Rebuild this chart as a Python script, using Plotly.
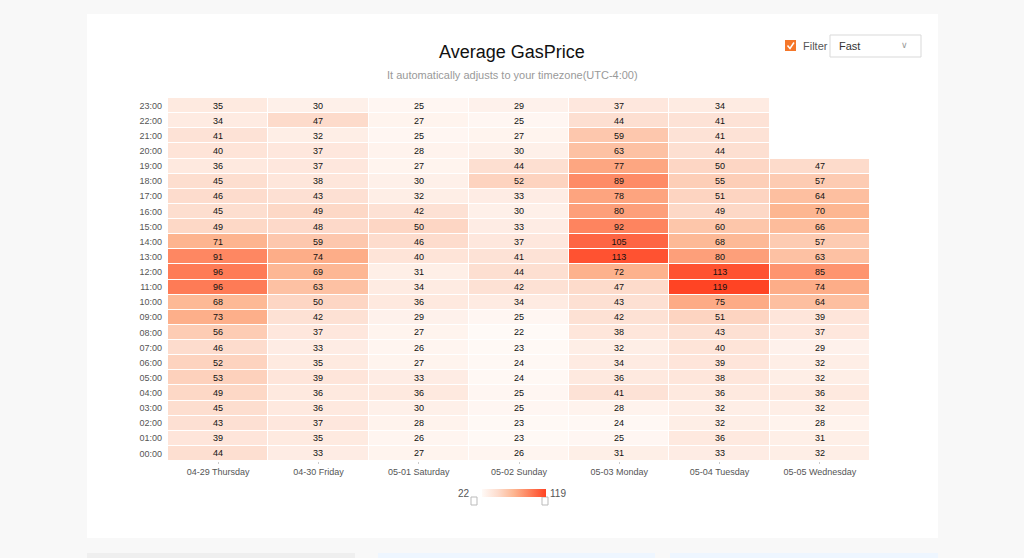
import plotly.graph_objects as go

# Hours (rows, bottom to top) and days (columns)
hours = ["%02d:00" % h for h in range(24)]
days = ["04-29 Thursday", "04-30 Friday", "05-01 Saturday", "05-02 Sunday",
        "05-03 Monday", "05-04 Tuesday", "05-05 Wednesday"]

# Average gas price per hour, one list per day (00:00 -> 23:00)
thu = [44, 39, 43, 45, 49, 53, 52, 46, 56, 73, 68, 96, 96, 91, 71, 49, 45, 46, 45, 36, 40, 41, 34, 35]
fri = [33, 35, 37, 36, 36, 39, 35, 33, 37, 42, 50, 63, 69, 74, 59, 48, 49, 43, 38, 37, 37, 32, 47, 30]
sat = [27, 26, 28, 30, 36, 33, 27, 26, 27, 29, 36, 34, 31, 40, 46, 50, 42, 32, 30, 27, 28, 25, 27, 25]
sun = [26, 23, 23, 25, 25, 24, 24, 23, 22, 25, 34, 42, 44, 41, 37, 33, 30, 33, 52, 44, 30, 27, 25, 29]
mon = [31, 25, 24, 28, 41, 36, 34, 32, 38, 42, 43, 47, 72, 113, 105, 92, 80, 78, 89, 77, 63, 59, 44, 37]
tue = [33, 36, 32, 32, 36, 38, 39, 40, 43, 51, 75, 119, 113, 80, 68, 60, 49, 51, 55, 50, 44, 41, 41, 34]
wed = [32, 31, 28, 32, 36, 32, 32, 29, 37, 39, 64, 74, 85, 63, 57, 66, 70, 64, 57, 47, None, None, None, None]

columns = [thu, fri, sat, sun, mon, tue, wed]
# heatmap wants rows = hours
z = [[col[h] for col in columns] for h in range(24)]
zmin, zmax = 22, 119

W, H = 1024, 558
L, R, T, B = 168, 154, 98, 97
pw, ph = W - L - R, H - T - B


# pixel -> paper coordinates
def px(x):
    return (x - L) / pw


def py(y):
    return (H - B - y) / ph


fig = go.Figure(go.Heatmap(
    z=z, x=days, y=hours,
    zmin=zmin, zmax=zmax,
    colorscale=[[0, "#fffaf7"], [0.25, "#fddccd"], [0.5, "#fdb590"], [0.75, "#fe7e59"], [1, "#ff4424"]],
    xgap=1, ygap=1,
    texttemplate="%{z}", textfont=dict(size=9, color="#111"),
    hoverongaps=False,
    colorbar=dict(orientation="h", x=px(514), xanchor="center", y=py(493), yanchor="middle",
                  lenmode="pixels", len=64, thickness=8, outlinewidth=0, xpad=0, ypad=0,
                  showticklabels=False, ticks=""),
))

ck = "M {},{} L {},{} L {},{}".format(px(787.5), py(45.5), px(790), py(48.5), px(794), py(42.5))

shapes = [
    # white card
    dict(type="rect", xref="paper", yref="paper", x0=px(87), x1=px(938), y0=py(538), y1=py(14),
         fillcolor="white", line=dict(width=0), layer="below"),
    # bottom cards peeking in
    dict(type="rect", xref="paper", yref="paper", x0=px(87), x1=px(355), y0=py(560), y1=py(553),
         fillcolor="#efefef", line=dict(width=0), layer="below"),
    dict(type="rect", xref="paper", yref="paper", x0=px(378), x1=px(655), y0=py(560), y1=py(553),
         fillcolor="#eef6ff", line=dict(width=0), layer="below"),
    dict(type="rect", xref="paper", yref="paper", x0=px(670), x1=px(938), y0=py(560), y1=py(553),
         fillcolor="#eef6ff", line=dict(width=0), layer="below"),
    # checkbox
    dict(type="rect", xref="paper", yref="paper", x0=px(785), x1=px(796), y0=py(51), y1=py(40),
         fillcolor="#f5772a", line=dict(width=0)),
    dict(type="path", xref="paper", yref="paper", path=ck, line=dict(width=1.5, color="white")),
    # dropdown
    dict(type="rect", xref="paper", yref="paper", x0=px(830), x1=px(921), y0=py(57), y1=py(35),
         fillcolor="white", line=dict(width=1, color="#d9d9d9")),
    # slider handles
    dict(type="rect", xref="paper", yref="paper", x0=px(471), x1=px(477), y0=py(505), y1=py(497),
         fillcolor="white", line=dict(width=1, color="#bbb")),
    dict(type="rect", xref="paper", yref="paper", x0=px(542), x1=px(548), y0=py(505), y1=py(497),
         fillcolor="white", line=dict(width=1, color="#bbb")),
]

annotations = [
    dict(text="Average GasPrice", x=px(512), y=py(52), font=dict(size=18, color="#111")),
    dict(text="It automatically adjusts to your timezone(UTC-4:00)", x=px(512), y=py(75),
         font=dict(size=11, color="#999")),
    dict(text="Filter", x=px(801), y=py(46), xanchor="left", font=dict(size=11, color="#555")),
    dict(text="Fast", x=px(837), y=py(46), xanchor="left", font=dict(size=11, color="#333")),
    dict(text="∨", x=px(910), y=py(45), font=dict(size=9, color="#999")),
    dict(text=str(zmin), x=px(472), y=py(493), xanchor="right", font=dict(size=10, color="#555")),
    dict(text=str(zmax), x=px(548), y=py(493), xanchor="left", font=dict(size=10, color="#555")),
]
for a in annotations:
    a.update(xref="paper", yref="paper", showarrow=False, yanchor="middle")

fig.update_layout(
    width=W, height=H,
    margin=dict(l=L, r=R, t=T, b=B),
    paper_bgcolor="#f8f8f8", plot_bgcolor="white",
    font=dict(family="Liberation Sans, Arial, sans-serif", color="#666", size=9),
    shapes=shapes, annotations=annotations,
    xaxis=dict(showgrid=False, zeroline=False, ticks="outside", ticklen=2, tickcolor="#ccc",
               tickfont=dict(size=9, color="#555"), fixedrange=True),
    yaxis=dict(showgrid=False, zeroline=False, ticks="", tickfont=dict(size=9, color="#555"),
               ticklabelstandoff=5, fixedrange=True),
)

# drop the default 8px page margin so the figure fills the window
fig.write_html("out.html", config={"displayModeBar": False},
               post_script="document.body.style.margin='0';")
